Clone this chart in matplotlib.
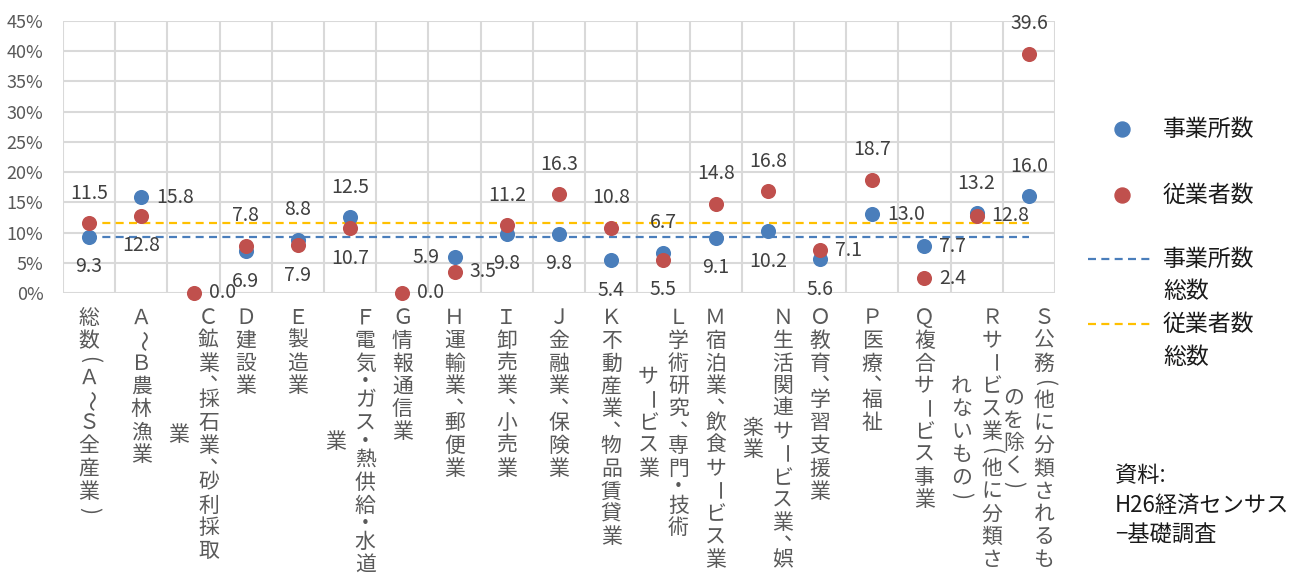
import numpy as np
import matplotlib
matplotlib.use("Agg")
import matplotlib.pyplot as plt
from matplotlib.lines import Line2D
from matplotlib.ticker import FuncFormatter, MultipleLocator

plt.rcParams['font.family'] = ['Noto Sans CJK JP', 'DejaVu Sans']

# Industry categories (a "\n" marks where the vertical label wraps to a new column)
categories = [
    "総数（Ａ～Ｓ全産業）",
    "Ａ～Ｂ農林漁業",
    "Ｃ鉱業、採石業、砂利採取\n業",
    "Ｄ建設業",
    "Ｅ製造業",
    "Ｆ電気・ガス・熱供給・水道\n業",
    "Ｇ情報通信業",
    "Ｈ運輸業、郵便業",
    "Ｉ卸売業、小売業",
    "Ｊ金融業、保険業",
    "Ｋ不動産業、物品賃貸業",
    "Ｌ学術研究、専門・技術\nサービス業",
    "Ｍ宿泊業、飲食サービス業",
    "Ｎ生活関連サービス業、娯\n楽業",
    "Ｏ教育、学習支援業",
    "Ｐ医療、福祉",
    "Ｑ複合サービス事業",
    "Ｒサービス業（他に分類さ\nれないもの）",
    "Ｓ公務（他に分類されるも\nのを除く）",
]

# Rates (%) by industry
establishments = [9.3, 15.8, np.nan, 6.9, 8.8, 12.5, np.nan, 5.9, 9.8, 9.8,
                  5.4, 6.7, 9.1, 10.2, 5.6, 13.0, 7.7, 13.2, 16.0]
employees = [11.5, 12.8, 0.0, 7.8, 7.9, 10.7, 0.0, 3.5, 11.2, 16.3,
             10.8, 5.5, 14.8, 16.8, 7.1, 18.7, 2.4, 12.8, 39.6]

series_names = ["事業所数", "従業者数", "事業所数\n総数", "従業者数\n総数"]
source_note = "資料:\nH26経済センサス\n−基礎調査"

# where each value label sits relative to its point
est_label_pos = ["below", "right", None, "below", "above", "above", None, "left", "below",
                 "below", "below", "above", "below", "below", "below", "right", "right",
                 "above", "above"]
emp_label_pos = ["above", "below", "right", "above", "below", "below", "right", "right",
                 "above", "above", "above", "below", "above", "above", "right", "above",
                 "right", "right", "above"]

BLUE = "#4A7EBB"
RED = "#C0504D"
ORANGE = "#FFC000"
GRID = "#D9D9D9"
TXT = "#404040"
TICK = "#595959"
DARK = "#1a1a1a"

W, H = 1301, 576
fig = plt.figure(figsize=(W / 100, H / 100), dpi=100)
ax = fig.add_axes([63 / W, 1 - 293 / H, (1055 - 63) / W, (293 - 21) / H])

n = len(categories)
x = np.arange(n)

ax.set_xlim(-0.5, n - 0.5)
ax.set_ylim(0, 45)
ax.yaxis.set_major_locator(MultipleLocator(5))
ax.yaxis.set_major_formatter(FuncFormatter(lambda v, p: f"{v:.0f}%"))
ax.set_xticks(np.arange(-0.5, n, 1.0))
ax.set_xticklabels([])
ax.grid(True, color=GRID, linewidth=1.5, zorder=0)
ax.set_axisbelow(True)
for s in ax.spines.values():
    s.set_visible(False)
ax.tick_params(axis="both", length=0)
ax.tick_params(axis="y", labelsize=13, labelcolor=TICK, pad=14)

lw = 1.6
dash = (0, (3.6, 2.4))
ax.hlines(establishments[0], x[0], x[-1], colors=BLUE, linewidth=lw, linestyles=dash, zorder=2)
ax.hlines(employees[0], x[0], x[-1], colors=ORANGE, linewidth=lw, linestyles=dash, zorder=2)

ms = 118
ax.scatter(x, establishments, s=ms, color=BLUE, zorder=3, clip_on=False, linewidths=0)
ax.scatter(x, employees, s=ms, color=RED, zorder=4, clip_on=False, linewidths=0)

offsets = {"above": ((0, 30), "center", "center"),
           "below": ((0, -30), "center", "center"),
           "right": ((15, 0), "left", "center"),
           "left": ((-15, 0), "right", "center")}


def label_points(vals, positions):
    for xi, v, pos in zip(x, vals, positions):
        if pos is None or np.isnan(v):
            continue
        off, ha, va = offsets[pos]
        ax.annotate(f"{v:.1f}", (xi, v), xytext=off, textcoords="offset pixels",
                    ha=ha, va=va, fontsize=14, color=TXT, zorder=5,
                    annotation_clip=False)


label_points(establishments, est_label_pos)
label_points(employees, emp_label_pos)

# vertical (tategaki) category labels, columns read right to left
FULL = 22.8       # px advance of a full-width character
NARROW = 14.0     # px advance of punctuation / brackets
SUBST = {"（": "(", "）": ")"}
ROTATED = set("ー～()")
NARROW_CH = set("、・()")
col_gap = 30.0    # px between columns
start = 306.6     # px from top of figure to the top of the first cell
px_per_unit = (1055 - 63) / n


def fig_y(py):
    return 1 - py / H


def advance(ch):
    return NARROW if ch in NARROW_CH else FULL


for xi, label in zip(x, categories):
    cols = [[SUBST.get(c, c) for c in col] for col in label.split("\n")]
    ncol = len(cols)
    total0 = sum(advance(c) for c in cols[0])
    x_disp = ax.transData.transform((xi, 0))[0]
    for j, col in enumerate(cols):
        cx_px = x_disp + (ncol - 1) / 2 * col_gap - j * col_gap
        total = sum(advance(c) for c in col)
        pos = start + (total0 - total) / 2
        for ch in col:
            a = advance(ch)
            cy = pos + a / 2
            cx = cx_px
            rot = -90 if ch in ROTATED else 0
            if ch == "、":
                cx += 12
                cy -= 8
            fig.text(cx / W, fig_y(cy), ch, fontsize=15, color=TICK,
                     ha="center", va="center", rotation=rot, rotation_mode="anchor")
            pos += a

# legend drawn on the right
lx_mark = 1122 / W
lx_text = 1163 / W
fig.add_artist(Line2D([lx_mark], [fig_y(129)], marker="o", markersize=10.8, color=BLUE,
                      linestyle="none", transform=fig.transFigure))
fig.add_artist(Line2D([lx_mark], [fig_y(195)], marker="o", markersize=10.8, color=RED,
                      linestyle="none", transform=fig.transFigure))
fig.add_artist(Line2D([1088 / W, 1152 / W], [fig_y(259)] * 2, color=BLUE, linewidth=lw,
                      linestyle=dash, transform=fig.transFigure))
fig.add_artist(Line2D([1088 / W, 1152 / W], [fig_y(324)] * 2, color=ORANGE, linewidth=lw,
                      linestyle=dash, transform=fig.transFigure))
for name, py in zip(series_names, [129, 195, 259, 324]):
    for k, line in enumerate(name.split("\n")):
        fig.text(lx_text, fig_y(py + k * 33), line, fontsize=16.5, color=DARK,
                 ha="left", va="center")

for k, line in enumerate(source_note.split("\n")):
    fig.text(1115 / W, fig_y(475 + k * 30), line, fontsize=16, color=DARK,
             ha="left", va="center")

fig.savefig("out.png", dpi=100)
